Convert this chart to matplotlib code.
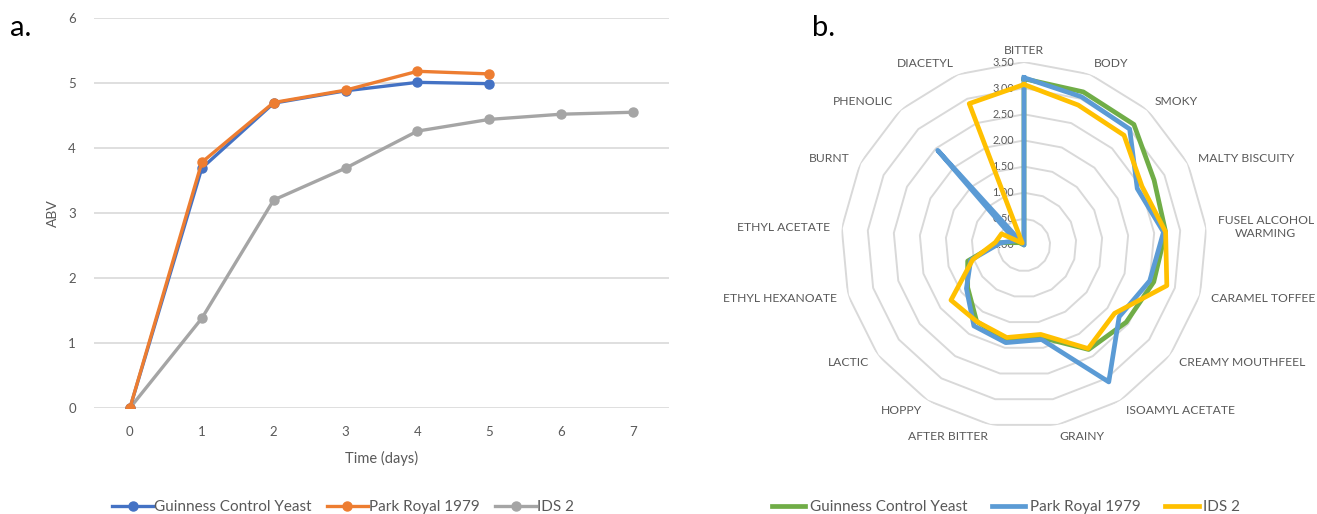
import numpy as np
import matplotlib
matplotlib.use("Agg")
import matplotlib.pyplot as plt
from matplotlib.lines import Line2D
from matplotlib.transforms import ScaledTranslation

plt.rcParams["font.family"] = ["Lato", "DejaVu Sans"]

# panel a: ABV over time
days_gcy = [0, 1, 2, 3, 4, 5]
abv_gcy = [0, 3.69, 4.69, 4.88, 5.01, 4.99]
days_pr = [0, 1, 2, 3, 4, 5]
abv_pr = [0, 3.78, 4.70, 4.89, 5.18, 5.14]
days_ids = [0, 1, 2, 3, 4, 5, 6, 7]
abv_ids = [0, 1.38, 3.20, 3.69, 4.26, 4.44, 4.52, 4.55]

# panel b: sensory profile
attributes = ["BITTER", "BODY", "SMOKY", "MALTY BISCUITY", "FUSEL ALCOHOL\nWARMING",
              "CARAMEL TOFFEE", "CREAMY MOUTHFEEL", "ISOAMYL ACETATE", "GRAINY",
              "AFTER BITTER", "HOPPY", "LACTIC", "ETHYL HEXANOATE", "ETHYL ACETATE",
              "BURNT", "PHENOLIC", "DIACETYL"]
score_gcy = [3.18, 3.14, 3.12, 2.78, 2.72, 2.58, 2.45, 2.35, 1.80, 1.86, 1.72, 1.35,
             1.12, 0.48, 0.10, 0.00, 0.00]
score_pr = [3.20, 3.04, 3.00, 2.42, 2.68, 2.50, 2.28, 3.08, 1.84, 1.90, 1.82, 1.38,
            1.06, 0.45, 0.18, 2.45, 0.00]
score_ids = [3.07, 2.87, 2.84, 2.52, 2.72, 2.84, 2.17, 2.33, 1.74, 1.80, 1.72, 1.75,
             1.02, 0.55, 0.48, 0.05, 2.90]
r_ticks = [0, 0.5, 1.0, 1.5, 2.0, 2.5, 3.0, 3.5]
series = ["Guinness Control Yeast", "Park Royal 1979", "IDS 2"]

TXT = "#595959"
GRID = "#d9d9d9"
W, H = 1317, 514

fig = plt.figure(figsize=(W / 100, H / 100), dpi=100)

# ---- a. line chart
ax1 = fig.add_axes([94 / W, 1 - 408 / H, (669 - 94) / W, 390 / H])
ax1.plot(days_gcy, abv_gcy, color="#4472C4", lw=2.4, marker="o", ms=6.5, zorder=3)
ax1.plot(days_pr, abv_pr, color="#ED7D31", lw=2.4, marker="o", ms=6.5, zorder=4)
ax1.plot(days_ids, abv_ids, color="#A5A5A5", lw=2.4, marker="o", ms=6.5, zorder=2)
ax1.set_xlim(-0.5, 7.5)
ax1.set_ylim(0, 6)
ax1.set_xticks(range(8))
ax1.set_yticks(range(7))
ax1.grid(axis="y", color=GRID, lw=1.2)
ax1.set_axisbelow(True)
for s in ax1.spines.values():
    s.set_visible(False)
ax1.tick_params(length=0, colors=TXT, labelsize=9.5)
ax1.tick_params(axis="y", pad=13)
ax1.tick_params(axis="x", pad=13)
ax1.set_xlabel("Time (days)", color=TXT, fontsize=10.5, labelpad=9)
ax1.set_ylabel("ABV", color=TXT, fontsize=10, labelpad=7)
fig.text(10 / W, 1 - 28 / H, "a.", fontsize=21, va="center", ha="left")

h1 = [Line2D([], [], color=c, lw=2.4, marker="o", ms=6.5)
      for c in ["#4472C4", "#ED7D31", "#A5A5A5"]]
fig.legend(h1, series, loc="center", bbox_to_anchor=(343 / W, 1 - 507 / H), ncol=3,
           frameon=False, fontsize=11, labelcolor=TXT, handlelength=2.7,
           handletextpad=0.05, columnspacing=1.0)

# ---- b. radar chart
cx, cy, R = 1024, 245, 183
ax2 = fig.add_axes([(cx - R) / W, 1 - (cy + R) / H, 2 * R / W, 2 * R / H],
                   projection="polar")
ax2.set_theta_offset(np.pi / 2)
ax2.set_theta_direction(-1)
ax2.set_ylim(0, 3.5)
ax2.set_xticks([])
ax2.set_yticks([])
ax2.grid(False)
ax2.spines["polar"].set_visible(False)
ax2.patch.set_alpha(0)

n = len(attributes)
theta = np.linspace(0, 2 * np.pi, n, endpoint=False)
theta_c = np.append(theta, theta[0])

for v in r_ticks[1:]:
    ax2.plot(theta_c, [v] * (n + 1), color=GRID, lw=1.4, zorder=1)

for vals, col in [(score_gcy, "#70AD47"), (score_pr, "#5B9BD5"), (score_ids, "#FFC000")]:
    ax2.plot(theta_c, list(vals) + [vals[0]], color=col, lw=3.4,
             solid_joinstyle="round", zorder=3)

off = ScaledTranslation(-10 / 100, 0, fig.dpi_scale_trans)
for v in r_ticks:
    ax2.text(0, v, f"{v:.2f}", transform=ax2.transData + off, ha="right",
             va="center", fontsize=7.8, color=TXT, zorder=2)

for t, lab in zip(theta, attributes):
    s = np.sin(t)
    ha = "center" if abs(s) < 0.05 else ("left" if s > 0 else "right")
    ax2.text(t, 3.72, lab, ha=ha, va="center", ma="center", fontsize=8.7,
             color=TXT, linespacing=1.3)

fig.text(812 / W, 1 - 28 / H, "b.", fontsize=21, va="center", ha="left")

h2 = [Line2D([], [], color=c, lw=3.4) for c in ["#70AD47", "#5B9BD5", "#FFC000"]]
fig.legend(h2, series, loc="center", bbox_to_anchor=(1006 / W, 1 - 507 / H), ncol=3,
           frameon=False, fontsize=11, labelcolor=TXT, handlelength=2.2,
           handletextpad=0.3, columnspacing=1.6)

fig.savefig("out.png", dpi=100)
